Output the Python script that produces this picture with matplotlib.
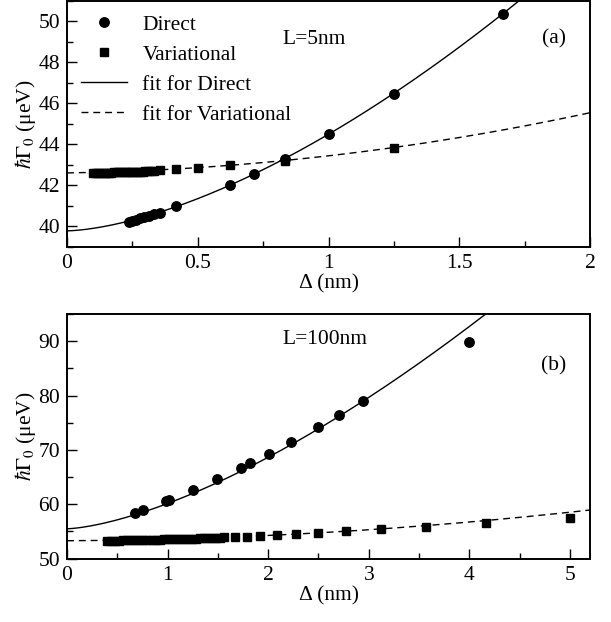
import numpy as np
import matplotlib
matplotlib.use("Agg")
import matplotlib.pyplot as plt
from matplotlib.ticker import MultipleLocator

plt.rcParams['font.family'] = ['Liberation Serif', 'DejaVu Serif']
plt.rcParams['mathtext.fontset'] = 'stix'
plt.rcParams['font.size'] = 15.5

# panel (a), L=5nm
a_direct_x = [0.238, 0.25, 0.263, 0.278, 0.294, 0.3125, 0.333, 0.357, 0.417,
              0.625, 0.714, 0.833, 1.0, 1.25, 1.667]
a_direct_y = [40.22, 40.27, 40.32, 40.38, 40.44, 40.51, 40.58, 40.65, 40.97,
              42.02, 42.56, 43.27, 44.49, 46.45, 50.36]
a_var_x = [0.10, 0.11, 0.12, 0.13, 0.14, 0.15, 0.16, 0.17, 0.18, 0.19, 0.20,
           0.21, 0.22, 0.23, 0.24, 0.25, 0.26, 0.27, 0.28, 0.29, 0.30, 0.31,
           0.32, 0.333, 0.357, 0.417, 0.5, 0.625, 0.833, 1.25]
a_var_y = [42.60, 42.60, 42.61, 42.61, 42.61, 42.62, 42.62, 42.62, 42.63, 42.63, 42.63,
           42.64, 42.64, 42.64, 42.65, 42.65, 42.65, 42.66, 42.66, 42.66, 42.67, 42.67,
           42.67, 42.68, 42.74, 42.77, 42.84, 42.98, 43.19, 43.84]
# fit parameters
a_fit_direct = (39.77, 4.72, 1.585)      # c0 + c1 * x**p
a_fit_var = (42.6, 0.2, 0.635)           # c0 + c1*x + c2*x**2

# panel (b), L=100nm
b_direct_x = [0.675, 0.752, 0.98, 1.01, 1.254, 1.493, 1.728, 1.82, 2.006,
              2.224, 2.499, 2.704, 2.943, 4.0]
b_direct_y = [58.46, 58.95, 60.6, 60.85, 62.63, 64.65, 66.73, 67.59, 69.25,
              71.45, 74.26, 76.47, 78.99, 89.8]
b_var_x = [0.40, 0.44, 0.48, 0.52, 0.56, 0.60, 0.64, 0.68, 0.72, 0.76, 0.80,
           0.84, 0.88, 0.92, 0.96, 1.00, 1.04, 1.08, 1.12, 1.16, 1.20, 1.24,
           1.28, 1.32, 1.36, 1.40, 1.44, 1.48, 1.52, 1.56,
           1.667, 1.786, 1.923, 2.083, 2.273, 2.5, 2.778, 3.125, 3.571, 4.167, 5.0]
b_var_y = [53.30, 53.31, 53.32, 53.33, 53.35, 53.36, 53.38, 53.40, 53.42, 53.44, 53.45,
           53.47, 53.49, 53.51, 53.53, 53.55, 53.57, 53.59, 53.61, 53.63, 53.65, 53.67,
           53.70, 53.72, 53.75, 53.78, 53.81, 53.84, 53.88, 53.92,
           54.0, 54.05, 54.17, 54.36, 54.6, 54.72, 55.05, 55.4, 55.83, 56.56, 57.43]
b_fit_direct = (55.5, 4.65, 1.5)
b_fit_var = (53.3, 0.111, 0.1876)


def power_fit(x, c):
    return c[0] + c[1] * x ** c[2]


def quad_fit(x, c):
    return c[0] + c[1] * x + c[2] * x ** 2


fig = plt.figure(figsize=(6.11, 6.22), dpi=100)
ax1 = fig.add_axes([0.1097, 0.6035, 0.8560, 0.3950])
ax2 = fig.add_axes([0.1097, 0.1018, 0.8560, 0.3934])

ms = 6.8
xa = np.linspace(0, 2, 300)
ax1.plot(a_direct_x, a_direct_y, 'o', color='k', ms=ms, label='Direct')
ax1.plot(a_var_x, a_var_y, 's', color='k', ms=ms - 0.6, label='Variational')
ax1.plot(xa, power_fit(xa, a_fit_direct), '-', color='k', lw=1.0, label='fit for Direct')
ax1.plot(xa, quad_fit(xa, a_fit_var), '--', color='k', lw=1.0, dashes=(5, 3.5),
         label='fit for Variational')
ax1.set_xlim(0, 2)
ax1.set_ylim(39, 51)
ax1.xaxis.set_major_locator(MultipleLocator(0.5))
ax1.xaxis.set_minor_locator(MultipleLocator(0.25))
ax1.yaxis.set_major_locator(MultipleLocator(2))
ax1.yaxis.set_minor_locator(MultipleLocator(1))
ax1.set_xticks([0, 0.5, 1, 1.5, 2])
ax1.set_xticklabels(['0', '0.5', '1', '1.5', '2'])
ax1.text(0.411, 0.845, 'L=5nm', transform=ax1.transAxes, va='center', ha='left')
ax1.text(0.931, 0.845, '(a)', transform=ax1.transAxes, va='center', ha='center')
ax1.legend(loc='upper left', frameon=False, handlelength=2.15, handletextpad=0.7,
           labelspacing=0.46, borderaxespad=0.45, borderpad=0.2, numpoints=1)

xb = np.linspace(0, 5.2, 400)
ax2.plot(b_direct_x, b_direct_y, 'o', color='k', ms=ms)
ax2.plot(b_var_x, b_var_y, 's', color='k', ms=ms - 0.6)
ax2.plot(xb, power_fit(xb, b_fit_direct), '-', color='k', lw=1.0)
ax2.plot(xb, quad_fit(xb, b_fit_var), '--', color='k', lw=1.0, dashes=(5, 3.5))
ax2.set_xlim(0, 5.2)
ax2.set_ylim(50, 95)
ax2.xaxis.set_major_locator(MultipleLocator(1))
ax2.xaxis.set_minor_locator(MultipleLocator(0.5))
ax2.yaxis.set_major_locator(MultipleLocator(10))
ax2.yaxis.set_minor_locator(MultipleLocator(5))
ax2.text(0.411, 0.894, 'L=100nm', transform=ax2.transAxes, va='center', ha='left')
ax2.text(0.931, 0.79, '(b)', transform=ax2.transAxes, va='center', ha='center')

for ax in (ax1, ax2):
    ax.set_xlabel('Δ (nm)', labelpad=1)
    ax.set_ylabel(r'$\hbar\Gamma_0$ (μeV)', labelpad=0)
    ax.tick_params(which='both', direction='in', top=False, right=False, width=1.0)
    ax.tick_params(which='major', length=7.5, pad=5)
    ax.tick_params(which='minor', length=4)
    for s in ax.spines.values():
        s.set_linewidth(1.4)

fig.savefig('out.png', dpi=100)
